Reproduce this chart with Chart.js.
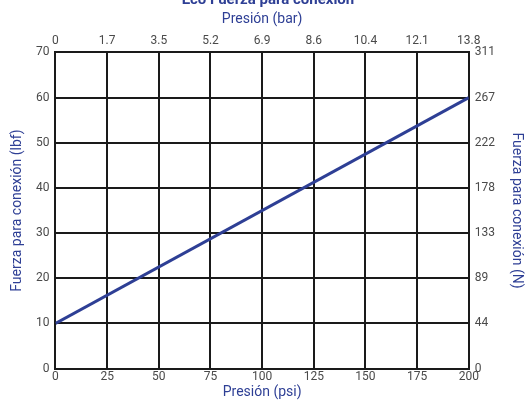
<!DOCTYPE html>
<html>
<head>
<meta charset="utf-8">
<script src="https://cdn.jsdelivr.net/npm/chart.js@4"></script>
<style>
  html, body { margin: 0; padding: 0; background: #fff; }
  #wrap { width: 528px; height: 400px; }
</style>
</head>
<body>
<div id="wrap"><canvas id="forceChart" width="528" height="400"></canvas></div>
<script>
// values
const pressurePsi = [0, 200];
const forceLbf = [10, 60];
const barLabels = ['0', '1.7', '3.5', '5.2', '6.9', '8.6', '10.4', '12.1', '13.8'];
const newtonLabels = ['0', '44', '89', '133', '178', '222', '267', '311'];

const blue = '#2e3f95';
const tickColor = '#4a4a4a';
const gridColor = '#1a1a1a';

document.addEventListener('DOMContentLoaded', function () {
    const ctx = document.getElementById('forceChart').getContext('2d');
    const tickFont = { family: 'Roboto', size: 12 };
    const titleFont = { family: 'Roboto', size: 14, lineHeight: 1.0 };

    new Chart(ctx, {
        type: 'line',
        data: {
            datasets: [{
                data: pressurePsi.map((p, i) => ({ x: p, y: forceLbf[i] })),
                borderColor: blue,
                borderWidth: 3,
                pointRadius: 0,
                fill: false
            }]
        },
        options: {
            responsive: false,
            animation: false,
            layout: { padding: { left: 10, right: 2, top: 0, bottom: 1 } },
            plugins: {
                legend: { display: false },
                tooltip: { enabled: false },
                title: {
                    display: true,
                    text: 'Eco Fuerza para conexión',
                    color: blue,
                    font: { family: 'Roboto', size: 15, weight: 'bold' },
                    padding: { top: -9, bottom: 3 }
                }
            },
            scales: {
                x: {
                    type: 'linear',
                    position: 'bottom',
                    min: 0,
                    max: 200,
                    ticks: { stepSize: 25, color: tickColor, font: tickFont, padding: 1 },
                    grid: { color: gridColor, lineWidth: 2, drawTicks: false },
                    border: { color: gridColor, width: 2 },
                    title: { display: true, text: 'Presión (psi)', color: blue, font: titleFont, padding: { top: 0, bottom: 0 } }
                },
                xTop: {
                    type: 'linear',
                    position: 'top',
                    min: 0,
                    max: 200,
                    ticks: {
                        stepSize: 25, color: tickColor, font: tickFont, padding: 4,
                        callback: (v, i) => barLabels[i]
                    },
                    grid: { display: false, drawTicks: false },
                    border: { color: gridColor, width: 2 },
                    title: { display: true, text: 'Presión (bar)', color: blue, font: titleFont, padding: { top: 0, bottom: 4 } }
                },
                y: {
                    type: 'linear',
                    position: 'left',
                    min: 0,
                    max: 70,
                    ticks: { stepSize: 10, color: tickColor, font: tickFont, padding: 6 },
                    grid: { color: gridColor, lineWidth: 2, drawTicks: false },
                    border: { color: gridColor, width: 2 },
                    title: { display: true, text: 'Fuerza para conexión (lbf)', color: blue, font: titleFont, padding: { top: 0, bottom: 6 } }
                },
                yRight: {
                    type: 'linear',
                    position: 'right',
                    min: 0,
                    max: 70,
                    ticks: {
                        stepSize: 10, color: tickColor, font: tickFont, padding: 6,
                        callback: (v, i) => newtonLabels[i]
                    },
                    grid: { display: false, drawTicks: false },
                    border: { color: gridColor, width: 2 },
                    title: { display: true, text: 'Fuerza para conexión (N)', color: blue, font: titleFont, padding: { top: 3, bottom: 8 } }
                }
            }
        }
    });
});
</script>
</body>
</html>
